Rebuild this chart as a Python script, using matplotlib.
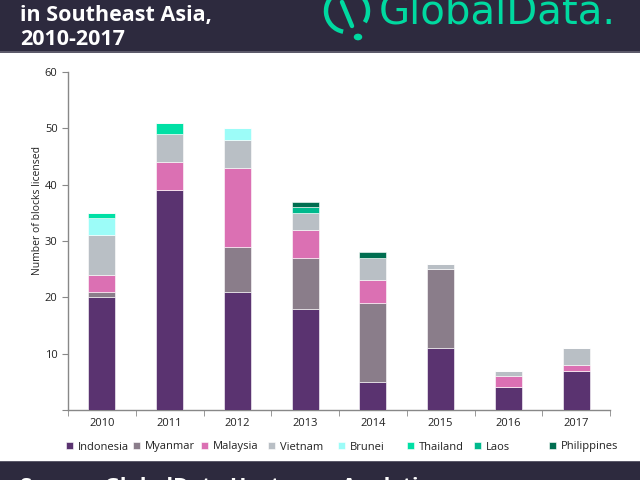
import matplotlib
matplotlib.use("Agg")
import matplotlib.pyplot as plt
import numpy as np
from matplotlib.patches import Rectangle, Arc, Circle
from matplotlib.lines import Line2D

years = ["2010", "2011", "2012", "2013", "2014", "2015", "2016", "2017"]
countries = ["Indonesia", "Myanmar", "Malaysia", "Vietnam", "Brunei", "Thailand", "Laos", "Philippines"]
indonesia = [20, 39, 21, 18, 5, 11, 4, 7]
myanmar = [1, 0, 8, 9, 14, 14, 0, 0]
malaysia = [3, 5, 14, 5, 4, 0, 2, 1]
vietnam = [7, 5, 5, 3, 4, 1, 1, 3]
brunei = [3, 0, 2, 0, 0, 0, 0, 0]
thailand = [1, 2, 0, 0, 0, 0, 0, 0]
laos = [0, 0, 0, 1, 0, 0, 0, 0]
philippines = [0, 0, 0, 1, 1, 0, 0, 0]
series = [indonesia, myanmar, malaysia, vietnam, brunei, thailand, laos, philippines]
colors = ["#5a3370", "#8a7d8a", "#db70b3", "#b9bfc5", "#9cfcf8", "#00e0a5", "#00b98d", "#006e50"]

plt.rcParams['font.family'] = ['Open Sans', 'DejaVu Sans']

fig = plt.figure(figsize=(6.4, 4.8), dpi=100)
fig.patch.set_facecolor("white")

# header band
band = "#2d2a3e"
green = "#00d9a0"
fig.patches.append(Rectangle((0, 1 - 52/480), 1, 52/480, transform=fig.transFigure,
                             facecolor=band, edgecolor="none", zorder=0))
fig.patches.append(Rectangle((0, 1 - 53/480), 1, 1.5/480, transform=fig.transFigure,
                             facecolor="#5c5a6a", edgecolor="none", zorder=1))
# footer band
fig.patches.append(Rectangle((0, 0), 1, 18/480, transform=fig.transFigure,
                             facecolor=band, edgecolor="none", zorder=0))
fig.patches.append(Rectangle((0, 18/480), 1, 1.5/480, transform=fig.transFigure,
                             facecolor="#5c5a6a", edgecolor="none", zorder=1))

fig.text(20/640, 1 - 21/480, "in Southeast Asia,", color="white", fontsize=15.5,
         fontweight="bold", ha="left", va="baseline")
fig.text(20/640, 1 - 45/480, "2010-2017", color="white", fontsize=15.5,
         fontweight="bold", ha="left", va="baseline")
fig.text(379/640, 1 - 23/480, "GlobalData.", color=green, fontsize=29,
         family="DejaVu Sans", ha="left", va="baseline")
# logo icon
fig.patches.append(Arc((347/640, 1 - 11/480), 42/640, 42/480, theta1=-40, theta2=262,
                       transform=fig.transFigure, color=green, lw=3.2, zorder=2))
fig.lines.append(Line2D([342/640, 352/640], [1 - 2/480, 1 - 26/480], transform=fig.transFigure,
                        color=green, lw=3.2, solid_capstyle="round", zorder=2))
fig.patches.append(Circle((358/640, 1 - 37/480), 0.0055, transform=fig.transFigure,
                          color=green, zorder=2))
fig.text(20/640, -13/480, "Source: GlobalData Upstream Analytics", color="white",
         fontsize=15.5, fontweight="bold", ha="left", va="baseline")

ax = fig.add_axes([68/640, (480 - 410)/480, (610 - 68)/640, (410 - 72)/480])
x = np.arange(len(years))
bottom = np.zeros(len(years))
for name, vals, c in zip(countries, series, colors):
    vals = np.array(vals, dtype=float)
    ax.bar(x, vals, bottom=bottom, width=0.4, color=c, edgecolor="white",
           linewidth=0.4, label=name, zorder=3)
    bottom += vals

ax.set_xlim(-0.5, len(years) - 0.5)
ax.set_ylim(0, 60)
ax.set_yticks([0, 10, 20, 30, 40, 50, 60])
ax.set_yticklabels(["", "10", "20", "30", "40", "50", "60"])
ax.set_xticks(x)
ax.set_xticklabels(years)
ax.set_xticks(np.arange(-0.5, len(years)), minor=True)
ax.tick_params(axis="x", which="major", length=0, labelsize=8, pad=6, colors="#222222")
ax.tick_params(axis="x", which="minor", length=4, color="#888888", direction="out")
ax.tick_params(axis="y", length=4, color="#888888", labelsize=8, labelcolor="#222222")
for s in ["top", "right"]:
    ax.spines[s].set_visible(False)
for s in ["left", "bottom"]:
    ax.spines[s].set_color("#888888")
    ax.spines[s].set_linewidth(1.0)
ax.set_ylabel("Number of blocks licensed", fontsize=7.5, color="#222222")
ax.yaxis.set_label_coords(-0.046, 0.59)

# legend: one entry per slot, left edges of the swatches in pixels
handles, labels = ax.get_legend_handles_labels()
slot_px = [66, 133, 201, 268, 338, 407, 474, 549]
for h, l, px in zip(handles, labels, slot_px):
    lg = fig.legend([h], [l], loc="center left", bbox_to_anchor=(px/640, 1 - 447/480),
                    frameon=False, fontsize=8, handlelength=0.6, handleheight=0.6,
                    handletextpad=0.5, borderpad=0, borderaxespad=0)
    for t in lg.get_texts():
        t.set_color("#222222")

fig.savefig("out.png", dpi=100)
